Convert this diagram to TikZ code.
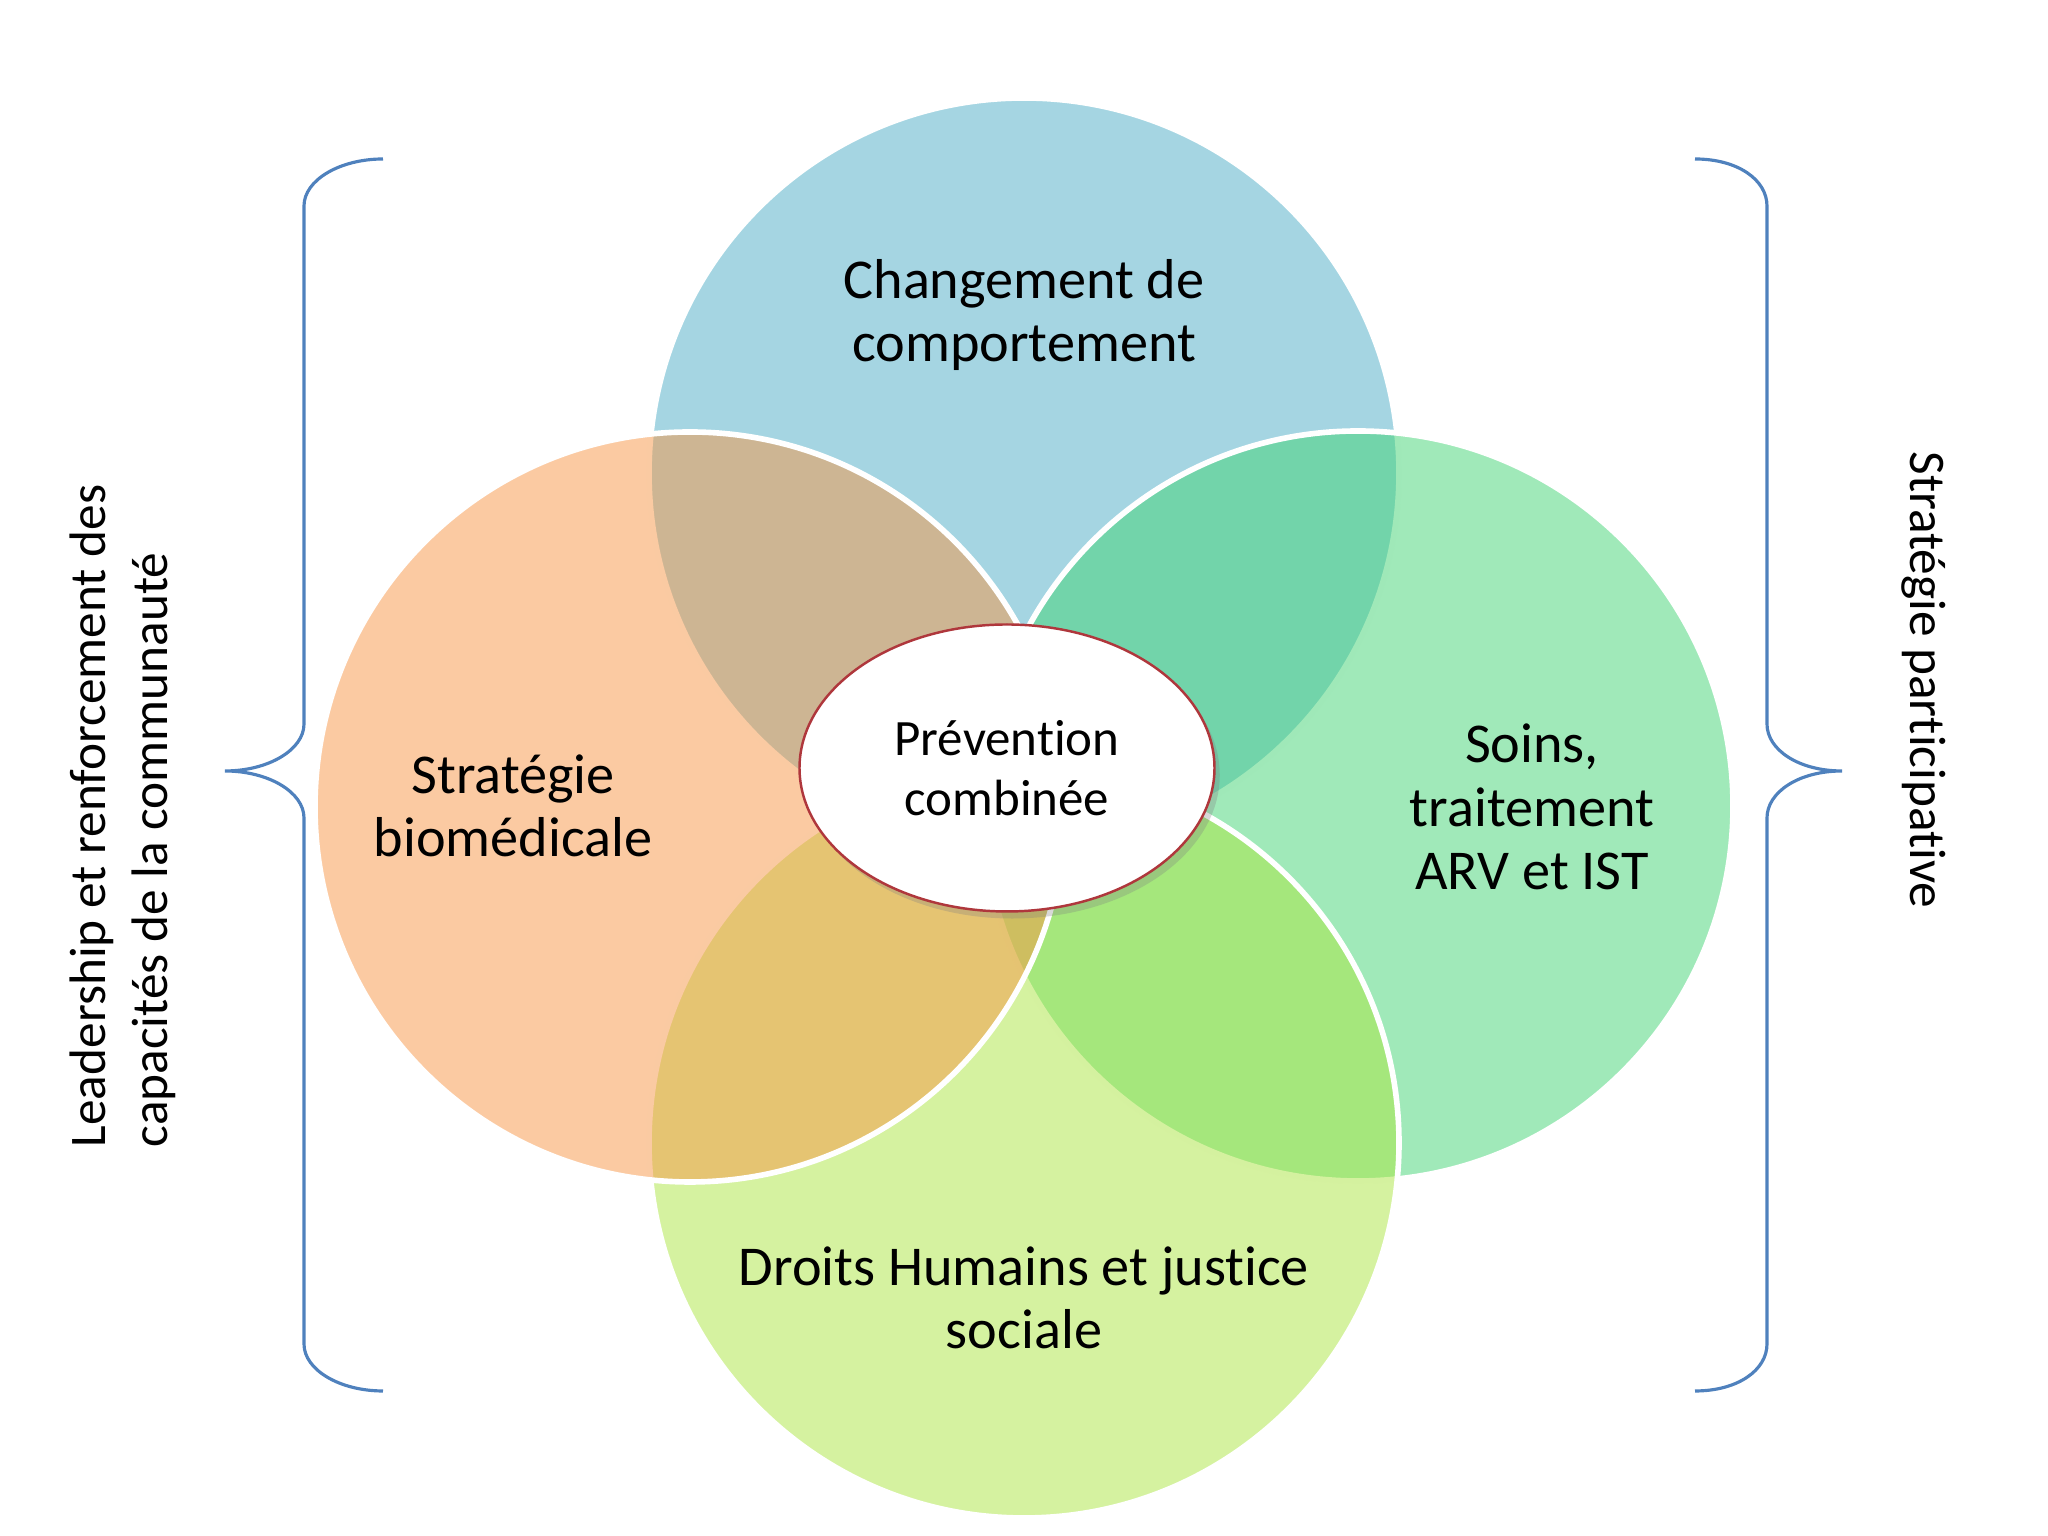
\documentclass[tikz,border=0pt]{standalone}
\usepackage{fontspec}
\setmainfont{Carlito}[Ligatures=NoCommon]
\usetikzlibrary{shapes.geometric,shadows}

\definecolor{topblue}{RGB}{75,172,198}
\definecolor{rightgreen}{RGB}{65,211,115}
\definecolor{bottomgreen}{RGB}{171,229,65}
\definecolor{leftorange}{RGB}{247,150,70}
\definecolor{braceblue}{RGB}{79,129,189}
\definecolor{rimred}{RGB}{175,55,60}

\begin{document}
\begin{tikzpicture}[
        disc/.style={fill opacity=0.5, draw=white, line width=1.6pt},
        lbl/.style={align=center, font=\fontsize{16}{18}\selectfont},
        side/.style={align=center, font=\fontsize{14.6}{17.6}\selectfont},
        brace/.style={draw=braceblue, line width=0.9pt}]

\useasboundingbox (0,0) rectangle (20.48,15.36);

\draw[disc, fill=topblue] (10.24,10.63) circle (3.75);
\draw[disc, fill=rightgreen] (13.58,7.30) circle (3.75);
\draw[disc, fill=bottomgreen] (10.24,3.93) circle (3.75);
\draw[disc, fill=leftorange] (6.90,7.29) circle (3.75);

\node[lbl] (behav) at (10.24,12.21) {Changement de\\comportement};
\node[lbl] (biomed) at (5.13,7.30) {Stratégie\\biomédicale};
\node[lbl] (care) at (15.32,7.29) {Soins,\\traitement\\ARV et IST};
\node[lbl] (rights) at (10.24,2.38) {Droits Humains et justice\\sociale};

\node[ellipse, draw=rimred, line width=0.7pt, fill=white,
      minimum width=4.15cm, minimum height=2.87cm, align=center,
      font=\fontsize{14.5}{17}\selectfont,
      drop shadow={opacity=0.3, shadow xshift=1.5pt, shadow yshift=-2pt}]
      (prev) at (10.07,7.68) {Prévention\\combinée};

\draw[brace] (3.83,13.77) .. controls (3.40,13.77) and (3.04,13.56) .. (3.04,13.30)
    -- (3.04,8.12) .. controls (3.04,7.86) and (2.68,7.65) .. (2.25,7.65)
    .. controls (2.68,7.65) and (3.04,7.44) .. (3.04,7.18)
    -- (3.04,1.92) .. controls (3.04,1.66) and (3.40,1.45) .. (3.83,1.45);
\draw[brace] (16.95,13.77) .. controls (17.38,13.77) and (17.67,13.56) .. (17.67,13.30)
    -- (17.67,8.12) .. controls (17.67,7.86) and (17.99,7.65) .. (18.42,7.65)
    .. controls (17.99,7.65) and (17.67,7.44) .. (17.67,7.18)
    -- (17.67,1.92) .. controls (17.67,1.66) and (17.38,1.45) .. (16.95,1.45);

\node[side, align=left, rotate=90] (lead) at (1.23,7.20)
    {Leadership et renforcement des\\capacités de la communauté};
\node[side, rotate=-90] (partic) at (19.24,8.56) {Stratégie participative};
\end{tikzpicture}
\end{document}
